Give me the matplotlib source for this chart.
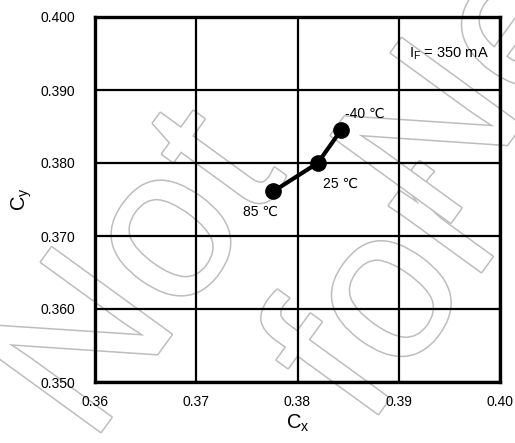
import matplotlib
matplotlib.use("Agg")
import matplotlib.pyplot as plt
from matplotlib import patheffects as pe

plt.rcParams['font.family'] = ['Liberation Sans', 'DejaVu Sans']
plt.rcParams['mathtext.fontset'] = 'custom'
plt.rcParams['mathtext.rm'] = 'Liberation Sans'
plt.rcParams['mathtext.it'] = 'Liberation Sans'

# data
temps = ['85 ℃', '25 ℃', '-40 ℃']
cx = [0.3776, 0.3820, 0.3843]
cy = [0.3761, 0.3800, 0.3845]
xticks = [0.36, 0.37, 0.38, 0.39, 0.40]
yticks = [0.350, 0.360, 0.370, 0.380, 0.390, 0.400]

fig = plt.figure(figsize=(5.15, 4.43), dpi=100)
ax = fig.add_axes([95/515, 1-382/443, 405/515, 365/443])
ax.set_facecolor('none')

# watermark
wm_fx = dict(color='white', fontsize=155, rotation=54, rotation_mode='anchor',
             ha='center', va='center', zorder=-5,
             path_effects=[pe.Stroke(linewidth=2.2, foreground='#bdbdbd'), pe.Normal()])
fig.text(144/515, 1-278/443, 'Not', **wm_fx)
fig.text(396/515, 1-295/443, 'for', **wm_fx)
fig.text(522/515, 1-30/443, 'New', **wm_fx)

ax.set_xlim(0.36, 0.40)
ax.set_ylim(0.350, 0.400)
ax.set_xticks(xticks)
ax.set_yticks(yticks)
ax.set_xticklabels([f'{v:.2f}' for v in xticks])
ax.set_yticklabels([f'{v:.3f}' for v in yticks])
ax.tick_params(length=0, labelsize=10, colors='black')
ax.tick_params(axis='x', pad=9)
ax.tick_params(axis='y', pad=14)
ax.grid(True, color='black', linewidth=1.6)
ax.set_axisbelow(True)
for s in ax.spines.values():
    s.set_linewidth(2.4)
    s.set_color('black')

ax.plot(cx, cy, color='black', linewidth=3, marker='o', markersize=11, zorder=5)

ax.text(cx[0] - 0.0030, cy[0] - 0.0028, temps[0], fontsize=10, ha='left', va='center')
ax.text(cx[1] + 0.0005, cy[1] - 0.0028, temps[1], fontsize=10, ha='left', va='center')
ax.text(cx[2] + 0.0004, cy[2] + 0.0023, temps[2], fontsize=10, ha='left', va='center')
ax.text(0.3910, 0.3950, r'I$_{\mathrm{F}}$ = 350 mA', fontsize=10.5, ha='left', va='center')

ax.set_xlabel(r'C$_{\mathrm{x}}$', fontsize=14.5, labelpad=3)
ax.set_ylabel(r'C$_{\mathrm{y}}$', fontsize=14.5, labelpad=5)

fig.savefig('out.png', dpi=100)
